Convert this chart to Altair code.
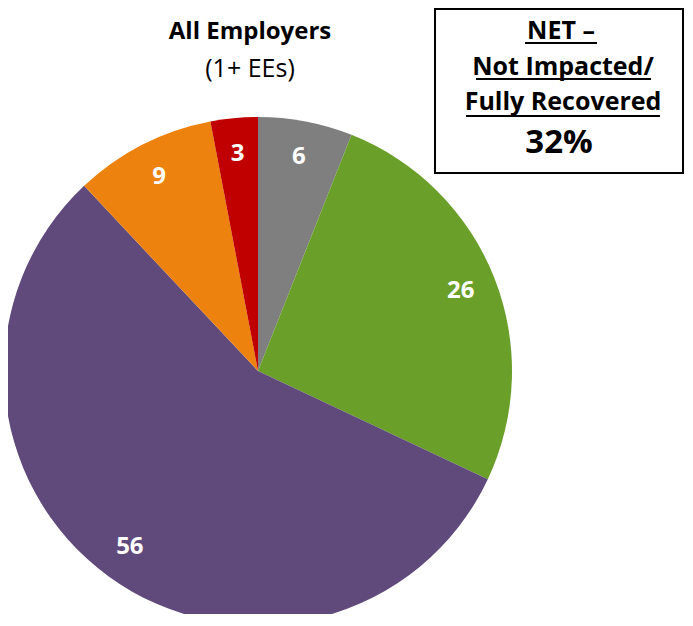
import altair as alt
import pandas as pd

# ---- data ----
categories = ["Not Impacted", "Fully Recovered", "Partially Recovered", "Not Recovered", "Closed"]
values = [6, 26, 56, 9, 3]
colors = ["#7F7F7F", "#6A9F2A", "#604A7B", "#EE820E", "#C00000"]
title_lines = ["All Employers", "(1+ EEs)"]
box_lines = ["NET \u2013", "Not Impacted/", "Fully Recovered"]
net_value = "32%"

FONT = "Open Sans"

df = pd.DataFrame({"cat": categories, "value": values, "order": list(range(len(values)))})
one = pd.DataFrame({"k": [0]})

CX, CY, R = 250, 363, 254

base = alt.Chart(df).encode(
    theta=alt.Theta("value:Q", stack=True),
    order=alt.Order("order:Q"),
    color=alt.Color("cat:N", scale=alt.Scale(domain=categories, range=colors), legend=None),
    x=alt.value(CX),
    y=alt.value(CY),
)

pie = base.mark_arc(outerRadius=R)
labels = base.mark_text(radius=218, font=FONT, fontSize=24, fontWeight="bold").encode(
    text=alt.Text("value:Q"), color=alt.value("white")
)

def txt(s, x, y, size, weight="normal"):
    return alt.Chart(one).mark_text(
        text=s, font=FONT, fontSize=size, fontWeight=weight, color="black",
        align="center", baseline="alphabetic"
    ).encode(x=alt.value(x), y=alt.value(y))

def hline(x1, x2, y):
    return alt.Chart(one).mark_rule(color="black", strokeWidth=2).encode(
        x=alt.value(x1), x2=alt.value(x2), y=alt.value(y)
    )

box = alt.Chart(one).mark_rect(fill="white", stroke="black", strokeWidth=2).encode(
    x=alt.value(427), x2=alt.value(675), y=alt.value(1), y2=alt.value(165)
)

BX = 554
layers = [
    pie, labels,
    txt(title_lines[0], 242, 31, 24, "bold"),
    txt(title_lines[1], 242, 69, 25),
    box,
    txt(box_lines[0], BX - 1, 31, 25, "bold"),
    txt(box_lines[1], BX + 1, 67, 25, "bold"),
    txt(box_lines[2], BX + 1, 102, 25, "bold"),
    hline(BX - 37, BX + 35, 35),
    hline(BX - 86, BX + 89, 71),
    hline(BX - 96, BX + 98, 108),
    txt(net_value, BX - 3, 145, 33, "bold"),
]

chart = alt.layer(*layers).properties(
    width=677, height=606, padding=0, autosize=alt.AutoSizeParams(type="none"),
    background="white"
).configure_view(stroke=None)

chart.save("out.html", embed_options={"renderer": "svg", "actions": False})
